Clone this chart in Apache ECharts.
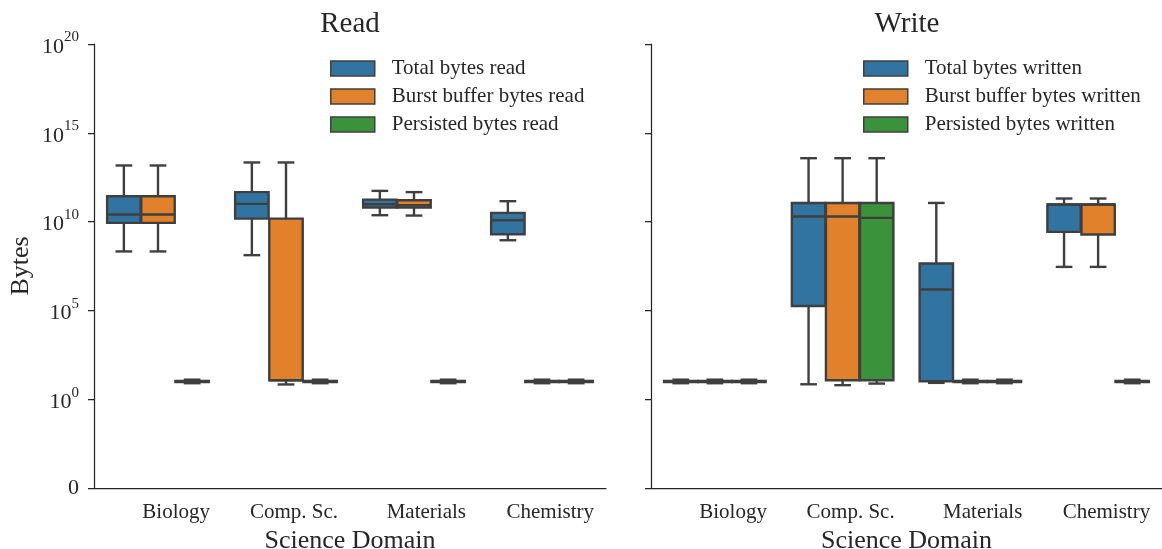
<!DOCTYPE html>
<html><head><meta charset="utf-8">
<script src="https://cdn.jsdelivr.net/npm/echarts@6/dist/echarts.min.js"></script>
<style>html,body{margin:0;padding:0;background:#fff}#c{width:1162px;height:549px}</style>
</head><body><div id="c"></div>
<script>
// ---- data (values are log10(bytes); -5 on the axis stands for 0 bytes) ----
const categories = ['Biology', 'Comp. Sc.', 'Materials', 'Chemistry'];
const yTickValues = [-5, 0, 5, 10, 15, 20];
const yTickLabels = ['0', '10^0', '10^5', '10^10', '10^15', '10^20'];

const readSeriesNames = ['Total bytes read', 'Burst buffer bytes read', 'Persisted bytes read'];
const writeSeriesNames = ['Total bytes written', 'Burst buffer bytes written', 'Persisted bytes written'];

// each entry: [min, q1, median, q3, max] per category
const readTotal = [
  [8.32, 9.93, 10.40, 11.43, 13.16],
  [8.11, 10.17, 11.00, 11.66, 13.33],
  [10.36, 10.79, 10.98, 11.24, 11.73],
  [8.95, 9.29, 10.08, 10.49, 11.15]
];
const readBurst = [
  [8.32, 9.93, 10.40, 11.43, 13.16],
  [0.83, 1.07, 1.07, 10.17, 13.33],
  [10.34, 10.79, 10.92, 11.20, 11.66],
  [0.90, 0.97, 1.00, 1.03, 1.10]
];
const readPersisted = [
  [0.90, 0.97, 1.00, 1.03, 1.10],
  [0.90, 0.97, 1.00, 1.03, 1.10],
  [0.90, 0.97, 1.00, 1.03, 1.10],
  [0.90, 0.97, 1.00, 1.03, 1.10]
];
const writeTotal = [
  [0.90, 0.97, 1.00, 1.03, 1.10],
  [0.84, 5.25, 10.29, 11.05, 13.57],
  [0.92, 1.01, 6.18, 7.64, 11.05],
  [7.45, 9.42, 10.96, 10.96, 11.30]
];
const writeBurst = [
  [0.90, 0.97, 1.00, 1.03, 1.10],
  [0.79, 1.07, 10.29, 11.05, 13.57],
  [0.90, 0.97, 1.00, 1.03, 1.10],
  [7.45, 9.27, 10.96, 10.96, 11.30]
];
const writePersisted = [
  [0.90, 0.97, 1.00, 1.03, 1.10],
  [0.88, 1.07, 10.21, 11.05, 13.57],
  [0.90, 0.97, 1.00, 1.03, 1.10],
  [0.90, 0.97, 1.00, 1.03, 1.10]
];

// ---- styling ----
const FONT = "'Liberation Serif', 'Times New Roman', serif";
const TEXT = '#262626';
const LINE = '#3f3f3f';
const LW = 2.4;
const COLORS = ['#3274a1', '#e1812c', '#3a923a'];

function boxRenderer(hue, nHue) {
  return function (params, api) {
    const c = api.value(0);
    const v = [api.value(1), api.value(2), api.value(3), api.value(4), api.value(5)];
    const band = api.size([1, 0])[0];
    const slot = band * 0.8 / nHue;
    const bw = slot * 0.98;
    const cx = api.coord([c, 0])[0] + (hue - (nHue - 1) / 2) * slot;
    const py = v.map(function (x) { return api.coord([c, x])[1]; });
    const color = api.visual('color');
    const ls = { stroke: LINE, lineWidth: LW, fill: null };
    const cap = bw / 4;
    return {
      type: 'group',
      children: [
        { type: 'line', shape: { x1: cx, y1: py[1], x2: cx, y2: py[0] }, style: ls },
        { type: 'line', shape: { x1: cx, y1: py[3], x2: cx, y2: py[4] }, style: ls },
        { type: 'line', shape: { x1: cx - cap, y1: py[0], x2: cx + cap, y2: py[0] }, style: ls },
        { type: 'line', shape: { x1: cx - cap, y1: py[4], x2: cx + cap, y2: py[4] }, style: ls },
        { type: 'rect', shape: { x: cx - bw / 2, y: py[3], width: bw, height: py[1] - py[3] },
          style: { fill: color, stroke: LINE, lineWidth: LW } },
        { type: 'line', shape: { x1: cx - bw / 2, y1: py[2], x2: cx + bw / 2, y2: py[2] }, style: ls }
      ]
    };
  };
}

function makeSeries(name, arr, hue, axisIdx) {
  return {
    type: 'custom',
    name: name,
    xAxisIndex: axisIdx,
    yAxisIndex: axisIdx,
    clip: false,
    renderItem: boxRenderer(hue, 3),
    itemStyle: { color: COLORS[hue] },
    encode: { x: 0, y: [1, 2, 3, 4, 5] },
    data: arr.map(function (d, i) { return [i].concat(d); })
  };
}

function yLabel(v) {
  const idx = yTickValues.indexOf(v);
  if (idx < 0) return '';
  const s = yTickLabels[idx];
  if (s.indexOf('^') < 0) return '{z|' + s + '}';
  const p = s.split('^');
  return '{b|' + p[0] + '}{s|' + p[1] + '}';
}

function xAxisDef(grid) {
  return {
    type: 'category', gridIndex: grid, data: categories, boundaryGap: true,
    axisLine: { onZero: false, lineStyle: { color: TEXT, width: 1.25 } },
    axisTick: { alignWithLabel: true, length: 6, lineStyle: { color: TEXT, width: 1.25 } },
    axisLabel: {
      align: 'center', margin: 14,
      formatter: function (v) { return '{r|' + v + '}'; },
      rich: { r: { width: 104, align: 'right', fontSize: 21, fontFamily: FONT, color: TEXT } }
    },
    name: 'Science Domain', nameLocation: 'middle', nameGap: 38,
    nameTextStyle: { fontSize: 26, fontFamily: FONT, color: TEXT }
  };
}

function yAxisDef(grid, showLabels) {
  const a = {
    type: 'value', gridIndex: grid, min: -5, max: 20, interval: 5,
    splitLine: { show: false },
    axisLine: { show: true, onZero: false, lineStyle: { color: TEXT, width: 1.25 } },
    axisTick: { show: true, length: 6, lineStyle: { color: TEXT, width: 1.25 } },
    axisLabel: {
      show: showLabels, margin: 15, formatter: yLabel,
      rich: {
        z: { fontSize: 22, fontFamily: FONT, color: TEXT, lineHeight: 22 },
        b: { fontSize: 22, fontFamily: FONT, color: TEXT, lineHeight: 28, verticalAlign: 'bottom' },
        s: { fontSize: 15, fontFamily: FONT, color: TEXT, lineHeight: 15, verticalAlign: 'top' }
      }
    }
  };
  if (showLabels) {
    a.name = 'Bytes';
    a.nameLocation = 'middle';
    a.nameGap = 60;
    a.nameRotate = 90;
    a.nameTextStyle = { fontSize: 26, fontFamily: FONT, color: TEXT };
  }
  return a;
}

function legendDef(names, left) {
  return {
    data: names, orient: 'vertical', left: left, top: 58, padding: 0,
    icon: 'rect', itemWidth: 44, itemHeight: 15, itemGap: 7,
    itemStyle: { borderColor: LINE, borderWidth: 1.5 },
    selectedMode: false,
    textStyle: { fontSize: 21, lineHeight: 21, fontFamily: FONT, color: TEXT, padding: [0, 0, 0, 12] }
  };
}

const chart = echarts.init(document.getElementById('c'), null, { renderer: 'canvas' });
chart.setOption({
  animation: false,
  backgroundColor: '#fff',
  title: [
    { text: 'Read', left: 350, top: 10, textAlign: 'center', padding: 0,
      textStyle: { fontSize: 29, fontWeight: 'normal', fontFamily: FONT, color: TEXT } },
    { text: 'Write', left: 907, top: 10, textAlign: 'center', padding: 0,
      textStyle: { fontSize: 29, fontWeight: 'normal', fontFamily: FONT, color: TEXT } }
  ],
  legend: [legendDef(readSeriesNames, 330), legendDef(writeSeriesNames, 863)],
  grid: [
    { left: 94, top: 44, width: 512, height: 444, outerBoundsMode: 'none', containLabel: false },
    { left: 651, top: 44, width: 511, height: 444, outerBoundsMode: 'none', containLabel: false }
  ],
  xAxis: [xAxisDef(0), xAxisDef(1)],
  yAxis: [yAxisDef(0, true), yAxisDef(1, false)],
  series: [
    makeSeries(readSeriesNames[0], readTotal, 0, 0),
    makeSeries(readSeriesNames[1], readBurst, 1, 0),
    makeSeries(readSeriesNames[2], readPersisted, 2, 0),
    makeSeries(writeSeriesNames[0], writeTotal, 0, 1),
    makeSeries(writeSeriesNames[1], writeBurst, 1, 1),
    makeSeries(writeSeriesNames[2], writePersisted, 2, 1)
  ]
});
</script></body></html>
